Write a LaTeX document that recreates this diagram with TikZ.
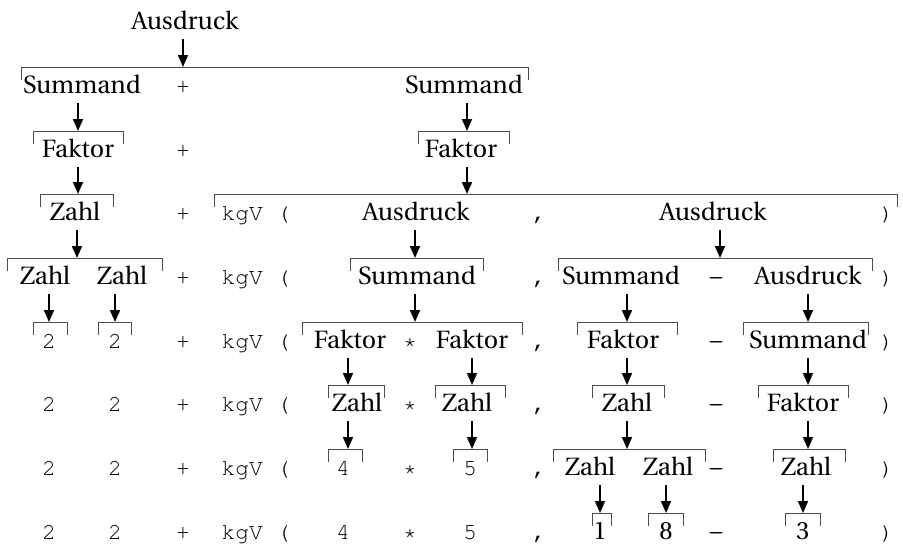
\documentclass[tikz,border=0pt]{standalone}
\usepackage[T1]{fontenc}
\renewcommand{\rmdefault}{put}
\renewcommand{\ttdefault}{pcr}
\usetikzlibrary{arrows.meta}

\newcommand{\ntsize}{\fontsize{25}{29}\selectfont}
\newcommand{\tmsize}{\fontsize{23}{27}\selectfont\ttfamily}

\tikzset{
    nt/.style={anchor=base, inner sep=0pt, font=\ntsize},
    tm/.style={anchor=base, inner sep=0pt, font=\tmsize},
    bracket/.style={draw=black!70, line width=0.9pt},
    arr/.style={-{Triangle[length=12pt,width=10pt]}, line width=1.8pt},
}

% bracket over the derived part, arrow from the rule's left side
% #1 parent node, #2 x of the arrow, #3/#4 left/right end, #5 height
\newcommand{\derive}[5]{
    \coordinate (#1-in) at (#2,#5);
    \draw[bracket] (#3,#5+13) -- (#3,#5) -- (#4,#5) -- (#4,#5+13);
    \draw[arr] (#1.base -| #1-in) ++(0,10) -- (#1-in);
}

\begin{document}
\begin{tikzpicture}[x=1pt, y=-1pt]
    \useasboundingbox (0,0) rectangle (903,549);

    % start symbol
    \node[nt] (A0) at (185,29) {Ausdruck};

    % terminals that stay put from row to row
    \foreach \r/\y in {1/93,2/157,3/220,4/284,5/348,6/411,7/475,8/539}
        \node[tm] (plus\r) at (183,\y) {+};
    \foreach \r/\y in {3/220,4/284,5/348,6/411,7/475,8/539} {
        \node[tm] (kgv\r) at (256,\y) {kgV (};
        \node[tm] (comma\r) at (539,\y) {,};
        \node[tm] (rpar\r) at (887,\y) {)};
    }
    \foreach \r/\y in {4/284,5/348,6/411,7/475,8/539}
        \node[nt] (minus\r) at (716,\y) {--};
    \foreach \r/\y in {5/348,6/411,7/475,8/539}
        \node[tm] (star\r) at (410,\y) {*};
    \foreach \r/\y in {6/411,7/475,8/539} {
        \node[tm] (twoA\r) at (49,\y) {2};
        \node[tm] (twoB\r) at (115,\y) {2};
    }
    \node[tm] (four8) at (343,539) {4};
    \node[tm] (five8) at (470,539) {5};

    % row 1
    \node[nt] (S1) at (82,93) {Summand};
    \node[nt] (S2) at (464,93) {Summand};
    \derive{A0}{183}{21}{528}{67}

    % row 2
    \node[nt] (F1) at (78,157) {Faktor};
    \node[nt] (F2) at (461,157) {Faktor};
    \derive{S1}{78}{33}{123}{131}
    \derive{S2}{467}{418}{509}{131}

    % row 3
    \node[nt] (Z1) at (75,220) {Zahl};
    \node[nt] (A1) at (416,220) {Ausdruck};
    \node[nt] (A2) at (713,220) {Ausdruck};
    \derive{F1}{78}{40}{113}{194}
    \derive{F2}{467}{214}{897}{194}

    % row 4
    \node[nt] (Z2) at (45,284) {Zahl};
    \node[nt] (Z3) at (122,284) {Zahl};
    \node[nt] (S3) at (417,284) {Summand};
    \node[nt] (S4) at (621,284) {Summand};
    \node[nt] (A3) at (808,284) {Ausdruck};
    \derive{Z1}{77}{7}{162}{258}
    \derive{A1}{415}{350}{483}{258}
    \derive{A2}{720}{558}{872}{258}

    % row 5
    \node[tm] (twoA5) at (49,348) {2};
    \node[tm] (twoB5) at (115,348) {2};
    \node[nt] (F3) at (350,348) {Faktor};
    \node[nt] (F4) at (472,348) {Faktor};
    \node[nt] (F5) at (623,348) {Faktor};
    \node[nt] (S5) at (808,348) {Summand};
    \derive{Z2}{49}{33}{67}{322}
    \derive{Z3}{115}{98}{131}{322}
    \derive{S3}{415}{302}{522}{322}
    \derive{S4}{627}{577}{677}{322}
    \derive{A3}{808}{743}{868}{322}

    % row 6
    \node[nt] (Z4) at (357,411) {Zahl};
    \node[nt] (Z5) at (467,411) {Zahl};
    \node[nt] (Z6) at (627,411) {Zahl};
    \node[nt] (F6) at (803,411) {Faktor};
    \derive{F3}{348}{328}{384}{385}
    \derive{F4}{472}{435}{505}{385}
    \derive{F5}{627}{592}{664}{385}
    \derive{S5}{808}{758}{848}{385}

    % row 7
    \node[tm] (four7) at (343,475) {4};
    \node[tm] (five7) at (470,475) {5};
    \node[nt] (Z7) at (590,475) {Zahl};
    \node[nt] (Z8) at (668,475) {Zahl};
    \node[nt] (Z9) at (806,475) {Zahl};
    \derive{Z4}{348}{328}{362}{449}
    \derive{Z5}{472}{453}{487}{449}
    \derive{Z6}{627}{553}{705}{449}
    \derive{F6}{808}{773}{845}{449}

    % row 8
    \node[nt] (one8) at (600,539) {1};
    \node[nt] (eight8) at (666,539) {8};
    \node[nt] (three8) at (803,539) {3};
    \derive{Z7}{600}{592}{611}{513}
    \derive{Z8}{666}{648}{683}{513}
    \derive{Z9}{803}{785}{820}{513}
\end{tikzpicture}
\end{document}
